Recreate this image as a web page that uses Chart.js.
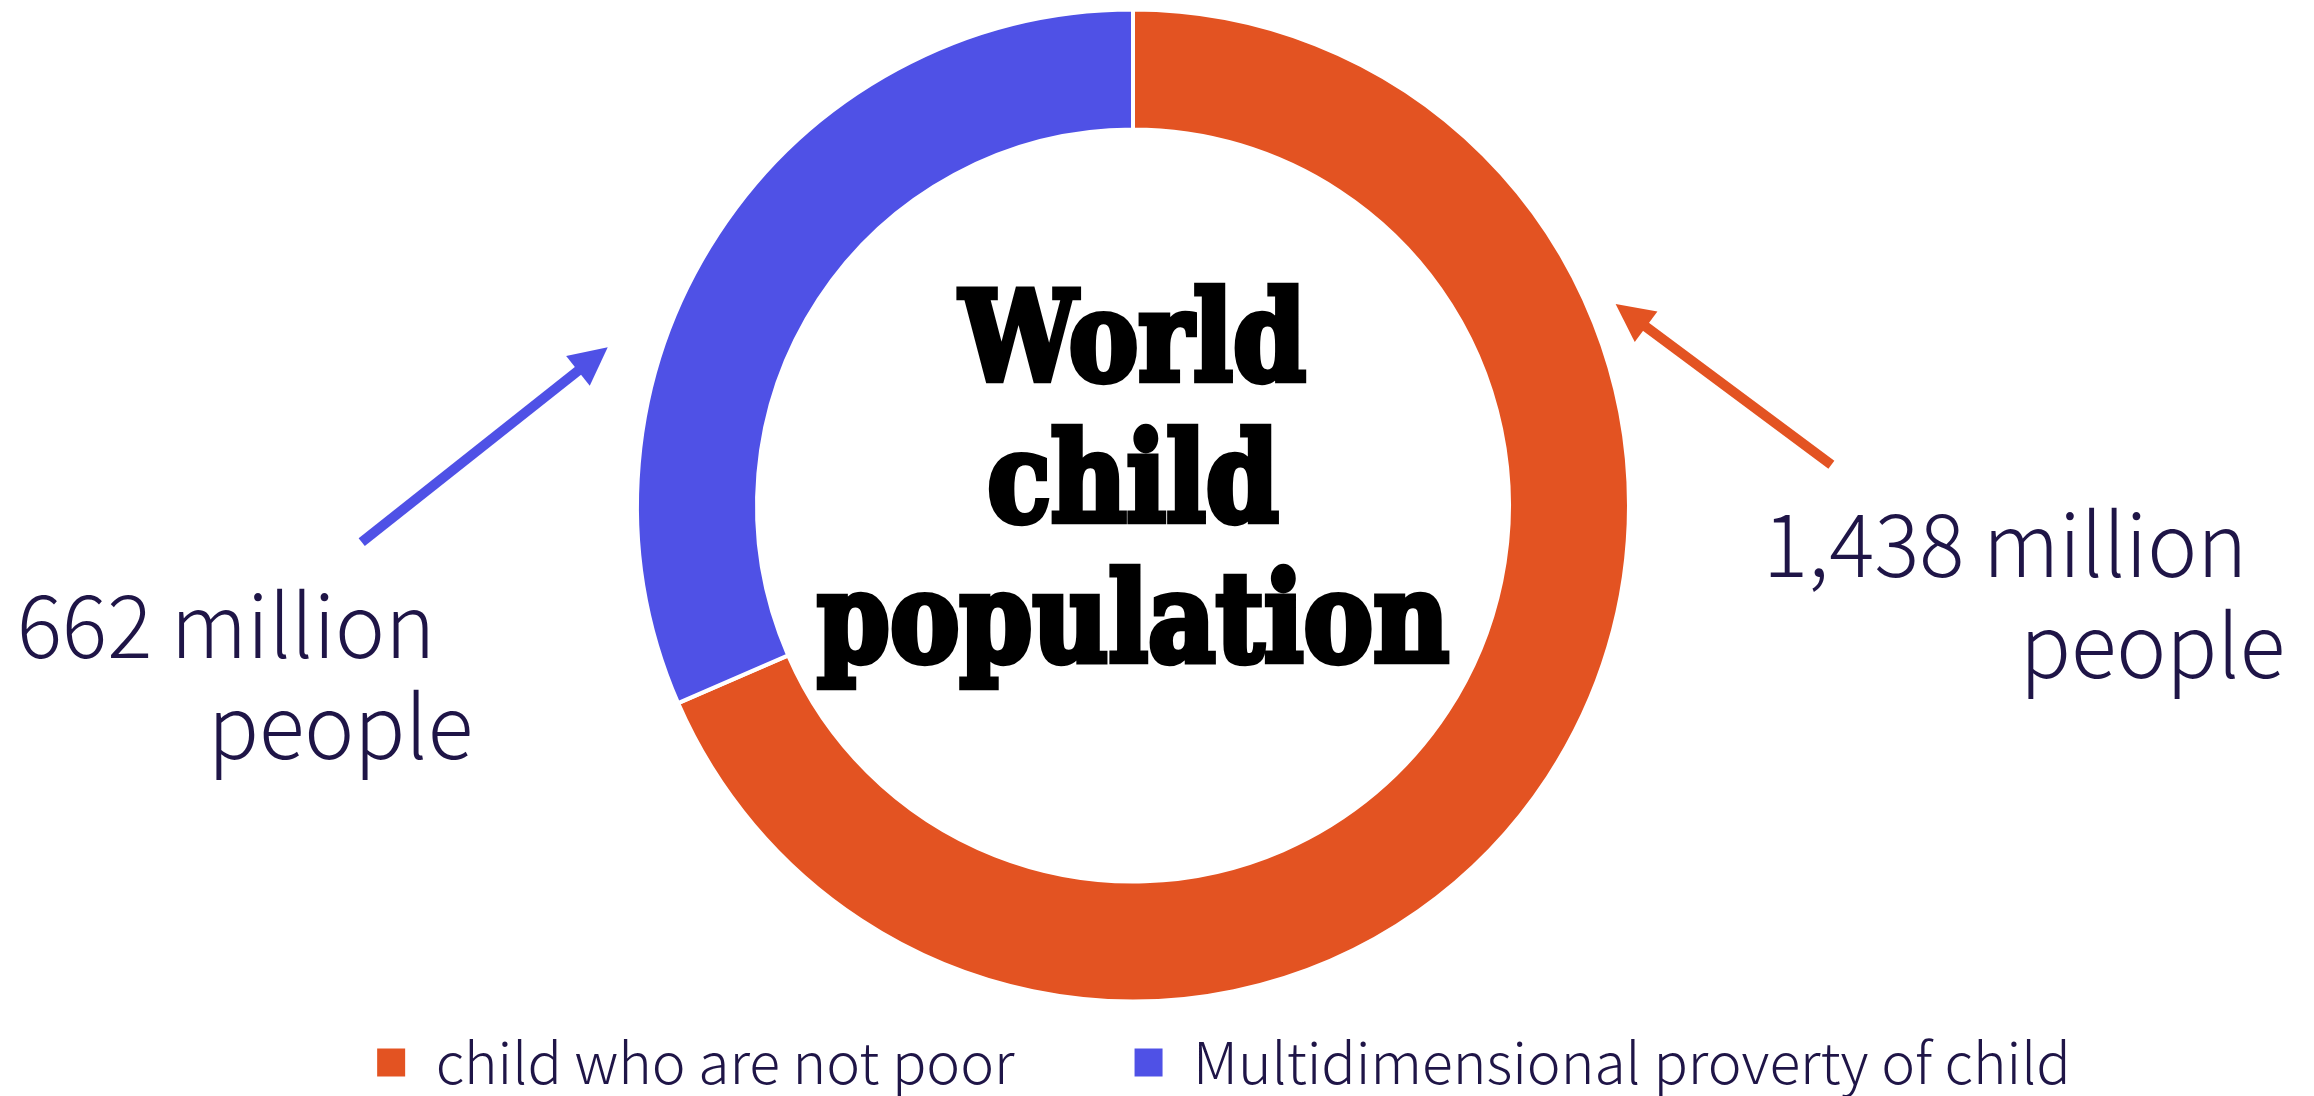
<!DOCTYPE html>
<html>
<head>
<meta charset="utf-8">
<script src="https://cdn.jsdelivr.net/npm/chart.js@4.4.0/dist/chart.umd.min.js"></script>
<style>
    html, body { margin: 0; padding: 0; background: #ffffff; }
    #childChart { display: block; }
</style>
</head>
<body>
<canvas id="childChart" width="2314" height="1096"></canvas>
<script>
// data
const categories = ['child who are not poor', 'Multidimensional proverty of child'];
const millions = [1438, 662];
const sliceColors = ['#E35322', '#4F51E6'];
const centerTitle = ['World', 'child', 'population'];
const rightNote = ['1,438 million', 'people'];
const leftNote = ['662 million', 'people'];

const textColor = '#1f1547';
const noteFont = '"Noto Sans CJK JP", "Noto Sans", sans-serif';

function drawArrow(ctx, x1, y1, x2, y2, color) {
    const ang = Math.atan2(y2 - y1, x2 - x1);
    const headLen = 38;
    const headHalf = 19;
    const bx = x2 - headLen * Math.cos(ang);
    const by = y2 - headLen * Math.sin(ang);
    ctx.save();
    ctx.strokeStyle = color;
    ctx.fillStyle = color;
    ctx.lineWidth = 10;
    ctx.beginPath();
    ctx.moveTo(x1, y1);
    ctx.lineTo(bx + 4 * Math.cos(ang), by + 4 * Math.sin(ang));
    ctx.stroke();
    ctx.beginPath();
    ctx.moveTo(x2, y2);
    ctx.lineTo(bx + headHalf * Math.sin(ang), by - headHalf * Math.cos(ang));
    ctx.lineTo(bx - headHalf * Math.sin(ang), by + headHalf * Math.cos(ang));
    ctx.closePath();
    ctx.fill();
    ctx.restore();
}

const notesPlugin = {
    id: 'notes',
    afterLayout(chart) {
        // the legend row sits a bit right of the ring in the original
        chart.legend.left += 90;
        chart.legend.right += 90;
    },
    afterDatasetsDraw(chart) {
        const ctx = chart.ctx;
        const arc = chart.getDatasetMeta(0).data[0];
        const cx = arc.x;
        const cy = arc.y;
        const R = arc.outerRadius;

        // centre title, heavy slab serif
        ctx.save();
        ctx.fillStyle = '#000000';
        ctx.strokeStyle = '#000000';
        ctx.lineWidth = 6;
        ctx.lineJoin = 'miter';
        ctx.textAlign = 'center';
        ctx.textBaseline = 'alphabetic';
        ctx.font = 'bold 116px "DejaVu Serif", serif';
        const sx = 632 / ctx.measureText('population').width;
        const base = [-126, 15, 155];
        centerTitle.forEach((t, i) => {
            ctx.save();
            ctx.translate(cx, cy + base[i]);
            ctx.scale(sx, 1.06);
            ctx.fillText(t, 0, 0);
            ctx.strokeText(t, 0, 0);
            ctx.restore();
        });
        ctx.restore();

        // arrows
        drawArrow(ctx, cx - 1.555 * R, cy + 0.074 * R, cx - 1.059 * R, cy - 0.319 * R, sliceColors[1]);
        drawArrow(ctx, cx + 1.408 * R, cy - 0.082 * R, cx + 0.973 * R, cy - 0.406 * R, sliceColors[0]);

        // side notes
        ctx.save();
        ctx.fillStyle = textColor;
        ctx.textAlign = 'left';
        ctx.textBaseline = 'alphabetic';
        ctx.font = '300 87px ' + noteFont;
        const nx = 418 / ctx.measureText(leftNote[0]).width;
        const note = (t, x, y) => {
            ctx.save();
            ctx.translate(x, y);
            ctx.scale(nx, 1);
            ctx.fillText(t, 0, 0);
            ctx.restore();
        };
        note(leftNote[0], cx - 1116, cy + 152);
        note(leftNote[1], cx - 925, cy + 253);
        note(rightNote[0], cx + 630, cy + 71);
        note(rightNote[1], cx + 887, cy + 172);
        ctx.restore();
    }
};

new Chart(document.getElementById('childChart'), {
    type: 'doughnut',
    data: {
        labels: categories,
        datasets: [{
            data: millions,
            backgroundColor: sliceColors,
            borderColor: '#ffffff',
            borderWidth: 4,
            radius: 496,
            cutout: '75.8%'
        }]
    },
    options: {
        responsive: false,
        devicePixelRatio: 1,
        animation: false,
        layout: {
            padding: { top: 95, bottom: -5, left: 0, right: 48 }
        },
        plugins: {
            legend: {
                position: 'bottom',
                labels: {
                    boxWidth: 32,
                    boxHeight: 32,
                    padding: 118,
                    color: textColor,
                    font: { size: 57, family: noteFont, weight: '300' }
                }
            },
            tooltip: { enabled: false }
        }
    },
    plugins: [notesPlugin]
});
</script>
</body>
</html>
